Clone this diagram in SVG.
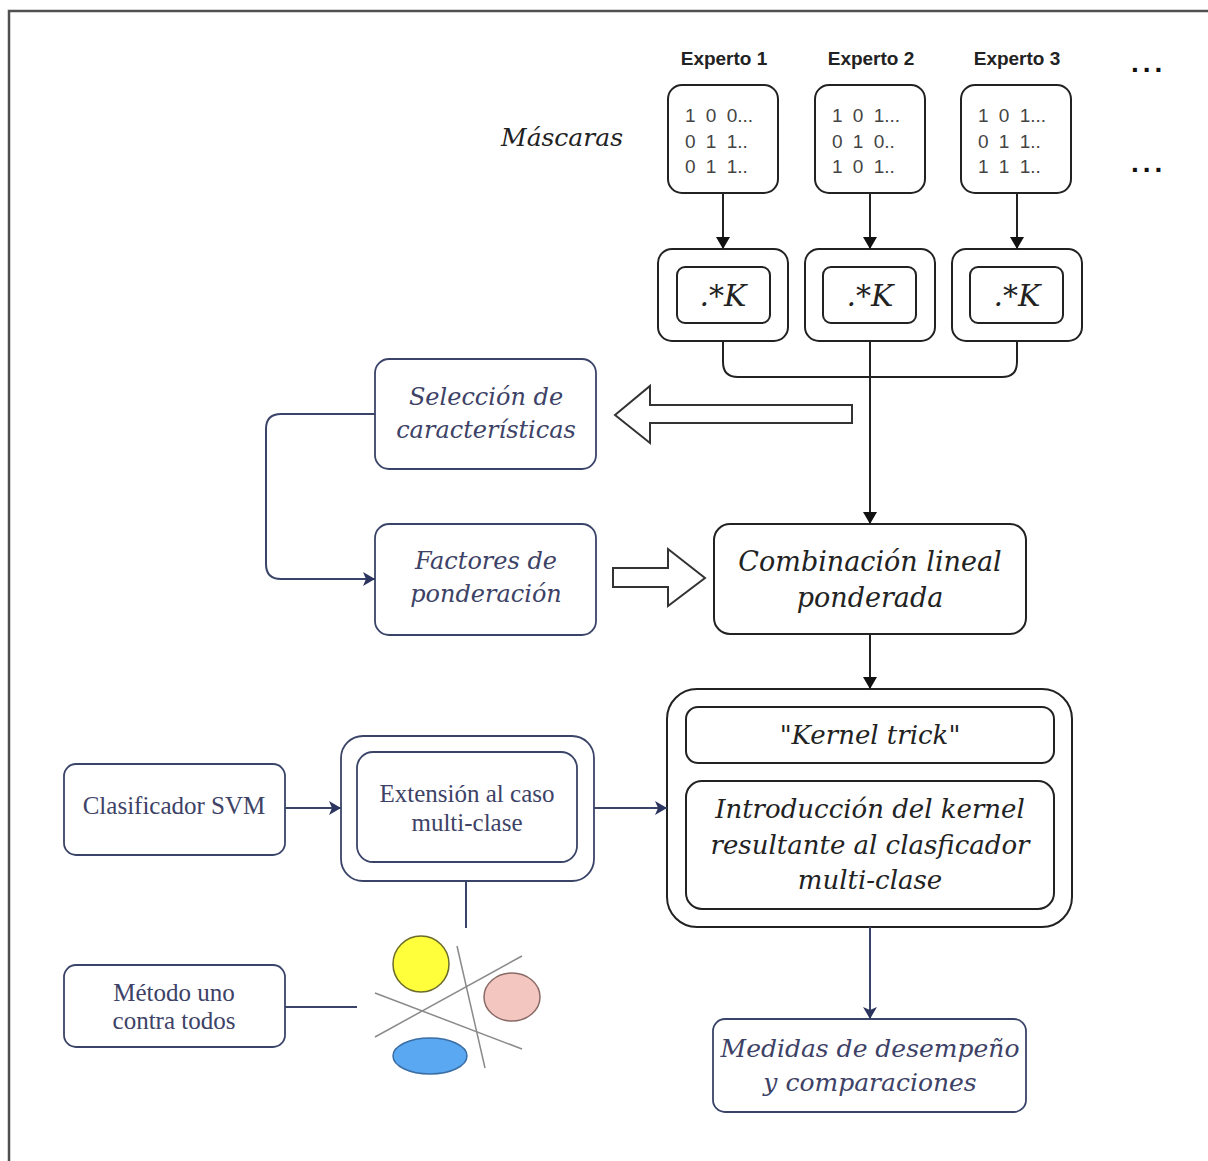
<svg xmlns="http://www.w3.org/2000/svg" width="1208" height="1161" viewBox="0 0 1208 1161">
<style>
.frame{stroke:#505050;stroke-width:2.5;fill:none}
.bk{fill:#fff;stroke:#222;stroke-width:2}
.nv{fill:#fff;stroke:#3a4468;stroke-width:1.8}
.hd{font-family:"Liberation Sans",Arial,sans-serif;font-size:19px;font-weight:bold;fill:#222;text-anchor:middle}
.dots{font-family:"Liberation Sans",Arial,sans-serif;font-size:28px;font-weight:bold;fill:#111;letter-spacing:4px}
.mx{font-family:"Liberation Sans",Arial,sans-serif;font-size:19px;fill:#444;word-spacing:5px}
.it{font-family:"DejaVu Serif",serif;font-style:italic;fill:#222;text-anchor:middle}
.itn{font-family:"DejaVu Serif",serif;font-style:italic;fill:#3d4266;text-anchor:middle}
.up{font-family:"Liberation Serif",serif;font-size:25px;fill:#3d4266;text-anchor:middle}
.cb{fill:none;stroke:#222;stroke-width:2}
.cn{fill:none;stroke:#3a4468;stroke-width:2}
.hollow{fill:#fff;stroke:#333;stroke-width:2}
.sep{stroke:#8a8a8a;stroke-width:1.5}
</style>
<defs>
<marker id="ab" markerUnits="userSpaceOnUse" markerWidth="12" markerHeight="14" refX="12" refY="7" orient="auto"><path d="M0,0 L12,7 L0,14 Z" fill="#111"/></marker>
<marker id="an" markerUnits="userSpaceOnUse" markerWidth="12" markerHeight="14" refX="12" refY="7" orient="auto"><path d="M0,0 L12,7 L0,14 L3,7 Z" fill="#2c3560"/></marker>
</defs>
<rect width="1208" height="1161" fill="#fff"/>
<path class="frame" d="M9,1161 V11 H1208"/>

<g id="headers">
<text class="hd" x="724" y="65">Experto 1</text>
<text class="hd" x="871" y="65">Experto 2</text>
<text class="hd" x="1017" y="65">Experto 3</text>
<text class="dots" x="1131" y="72">...</text>
<text class="dots" x="1131" y="172">...</text>
</g>

<g id="mascaras-label">
<text class="it" x="562" y="146" font-size="25">Máscaras</text>
</g>

<g id="mask1">
<rect class="bk" x="668" y="85" width="110" height="108" rx="14"/>
<text class="mx" x="685" y="122">1 0 0...</text>
<text class="mx" x="685" y="148">0 1 1..</text>
<text class="mx" x="685" y="173">0 1 1..</text>
</g>
<g id="mask2">
<rect class="bk" x="815" y="85" width="110" height="108" rx="14"/>
<text class="mx" x="832" y="122">1 0 1...</text>
<text class="mx" x="832" y="148">0 1 0..</text>
<text class="mx" x="832" y="173">1 0 1..</text>
</g>
<g id="mask3">
<rect class="bk" x="961" y="85" width="110" height="108" rx="14"/>
<text class="mx" x="978" y="122">1 0 1...</text>
<text class="mx" x="978" y="148">0 1 1..</text>
<text class="mx" x="978" y="173">1 1 1..</text>
</g>

<g id="k1">
<rect class="bk" x="658" y="249" width="130" height="92" rx="14"/>
<rect class="bk" x="677" y="267" width="93" height="56" rx="8"/>
<text class="it" x="723" y="306" font-size="30">.*K</text>
</g>
<g id="k2">
<rect class="bk" x="805" y="249" width="130" height="92" rx="14"/>
<rect class="bk" x="823" y="267" width="93" height="56" rx="8"/>
<text class="it" x="870" y="306" font-size="30">.*K</text>
</g>
<g id="k3">
<rect class="bk" x="952" y="249" width="130" height="92" rx="14"/>
<rect class="bk" x="970" y="267" width="93" height="56" rx="8"/>
<text class="it" x="1017" y="306" font-size="30">.*K</text>
</g>

<g id="seleccion">
<rect class="nv" x="375" y="359" width="221" height="110" rx="14"/>
<text class="itn" x="486" y="405" font-size="24">Selección de</text>
<text class="itn" x="486" y="438" font-size="24">características</text>
</g>

<g id="factores">
<rect class="nv" x="375" y="524" width="221" height="111" rx="14"/>
<text class="itn" x="486" y="569" font-size="24">Factores de</text>
<text class="itn" x="486" y="602" font-size="24">ponderación</text>
</g>

<g id="combinacion">
<rect class="bk" x="714" y="524" width="312" height="110" rx="16"/>
<text class="it" x="870" y="571" font-size="27">Combinación lineal</text>
<text class="it" x="870" y="607" font-size="27">ponderada</text>
</g>

<g id="kernel">
<rect class="bk" x="667" y="689" width="405" height="238" rx="30"/>
<rect class="bk" x="686" y="707" width="368" height="56" rx="12"/>
<text class="it" x="870" y="744" font-size="26">"Kernel trick"</text>
<rect class="bk" x="686" y="781" width="368" height="128" rx="16"/>
<text class="it" x="870" y="818" font-size="26">Introducción del kernel</text>
<text class="it" x="870" y="854" font-size="26">resultante al clasficador</text>
<text class="it" x="870" y="889" font-size="26">multi-clase</text>
</g>

<g id="medidas">
<rect class="nv" x="713" y="1019" width="313" height="93" rx="12"/>
<text class="itn" x="870" y="1057" font-size="25">Medidas de desempeño</text>
<text class="itn" x="870" y="1091" font-size="25">y comparaciones</text>
</g>

<g id="clasificador">
<rect class="nv" x="64" y="764" width="221" height="91" rx="12"/>
<text class="up" x="174" y="814">Clasificador SVM</text>
</g>

<g id="extension">
<rect class="nv" x="341" y="736" width="253" height="145" rx="22"/>
<rect class="nv" x="357" y="752" width="220" height="110" rx="16"/>
<text class="up" x="467" y="802">Extensión al caso</text>
<text class="up" x="467" y="831">multi-clase</text>
</g>

<g id="metodo">
<rect class="nv" x="64" y="965" width="221" height="82" rx="12"/>
<text class="up" x="174" y="1001">Método uno</text>
<text class="up" x="174" y="1029">contra todos</text>
</g>

<g id="classes-icon">
<ellipse cx="421" cy="964" rx="28" ry="28" fill="#ffff3c" stroke="#6b6b2a" stroke-width="1.5"/>
<ellipse cx="512" cy="997" rx="28" ry="24" fill="#f3c6c0" stroke="#8a6a66" stroke-width="1.5"/>
<ellipse cx="430" cy="1056" rx="37" ry="18" fill="#5aa8f2" stroke="#3a6ea5" stroke-width="1.5"/>
<line class="sep" x1="457" y1="946" x2="485" y2="1068"/>
<line class="sep" x1="522" y1="956" x2="375" y2="1037"/>
<line class="sep" x1="375" y1="993" x2="522" y2="1049"/>
</g>

<g id="connectors">
<line class="cb" x1="723" y1="193" x2="723" y2="249" marker-end="url(#ab)"/>
<line class="cb" x1="870" y1="193" x2="870" y2="249" marker-end="url(#ab)"/>
<line class="cb" x1="1017" y1="193" x2="1017" y2="249" marker-end="url(#ab)"/>
<path class="cb" d="M723,341 V362 Q723,377 738,377 H1002 Q1017,377 1017,362 V341"/>
<line class="cb" x1="870" y1="341" x2="870" y2="524" marker-end="url(#ab)"/>
<line class="cb" x1="870" y1="634" x2="870" y2="689" marker-end="url(#ab)"/>
<path class="cn" d="M375,414 H281 Q266,414 266,429 V564 Q266,579 281,579 H375" marker-end="url(#an)"/>
<line class="cn" x1="285" y1="808" x2="341" y2="808" marker-end="url(#an)"/>
<line class="cn" x1="594" y1="808" x2="667" y2="808" marker-end="url(#an)"/>
<line class="cn" x1="870" y1="927" x2="870" y2="1019" marker-end="url(#an)"/>
<line class="cn" x1="466" y1="881" x2="466" y2="928"/>
<line class="cn" x1="285" y1="1007" x2="357" y2="1007"/>
<polygon class="hollow" points="615,415 650,386 650,405 852,405 852,423 650,423 650,443"/>
<polygon class="hollow" points="613,568 668,568 668,549 705,578 668,606 668,587 613,587"/>
</g>
</svg>
